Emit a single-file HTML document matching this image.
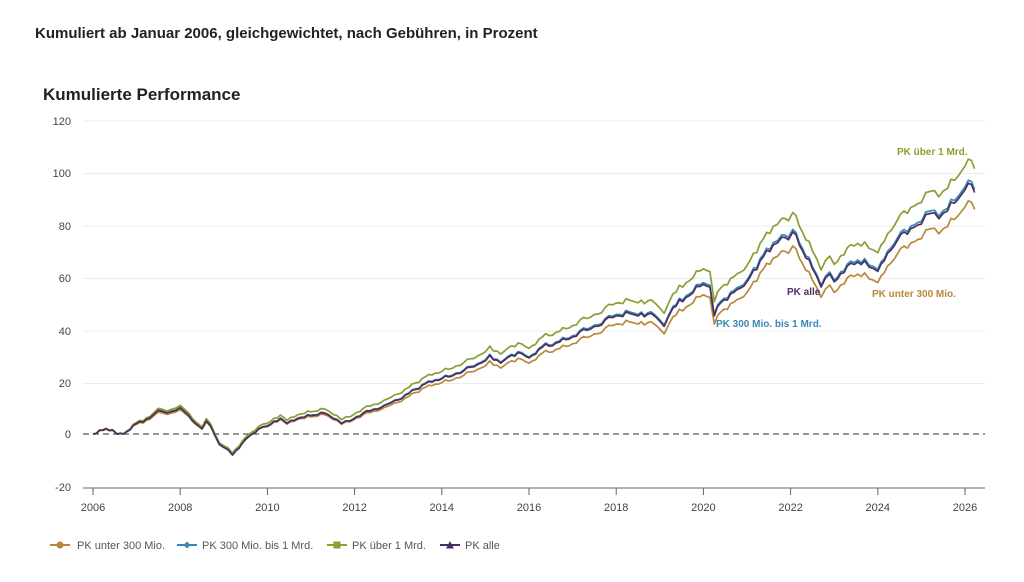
<!DOCTYPE html>
<html><head><meta charset="utf-8"><style>
body{margin:0;background:#fff;width:1024px;height:577px;overflow:hidden;font-family:"Liberation Sans",sans-serif}
</style></head><body>
<svg id="s" width="1024" height="577" xmlns="http://www.w3.org/2000/svg" font-family="Liberation Sans, sans-serif">
<text x="35" y="38" font-size="15" font-weight="bold" fill="#222">Kumuliert ab Januar 2006, gleichgewichtet, nach Gebühren, in Prozent</text>
<text x="43" y="100" font-size="17" font-weight="bold" fill="#222">Kumulierte Performance</text>
<g stroke="#ececec" stroke-width="1">
<line x1="83" x2="985" y1="121" y2="121"/><line x1="83" x2="985" y1="173.5" y2="173.5"/>
<line x1="83" x2="985" y1="226" y2="226"/><line x1="83" x2="985" y1="278.5" y2="278.5"/>
<line x1="83" x2="985" y1="331" y2="331"/><line x1="83" x2="985" y1="383.5" y2="383.5"/>
</g>
<line x1="83" x2="985" y1="434" y2="434" stroke="#555" stroke-width="1.2" stroke-dasharray="6,4"/>
<line x1="83" x2="985" y1="488" y2="488" stroke="#666" stroke-width="1"/>
<g font-size="11" fill="#444" text-anchor="end">
<text x="71" y="125">120</text><text x="71" y="177">100</text><text x="71" y="230">80</text>
<text x="71" y="282">60</text><text x="71" y="335">40</text><text x="71" y="387">20</text>
<text x="71" y="438">0</text><text x="71" y="491">-20</text>
</g>
<g id="xt" font-size="11" fill="#444" text-anchor="middle" stroke="#666"></g>
<g id="lines" fill="none" stroke-width="1.7" stroke-linejoin="round"></g>
<g font-size="10" font-weight="bold">
<text x="897" y="155" fill="#8a9e32">PK über 1 Mrd.</text>
<text x="872" y="297" fill="#b8893a">PK unter 300 Mio.</text>
<text x="787" y="295" fill="#4b2f62">PK alle</text>
<text x="716" y="327" fill="#3a88b0">PK 300 Mio. bis 1 Mrd.</text>
</g>
<g font-size="11" fill="#555">
<line x1="50" x2="70" y1="545" y2="545" stroke="#b8893a" stroke-width="2"/><circle cx="60" cy="545" r="3.5" fill="#b8893a"/>
<text x="77" y="549">PK unter 300 Mio.</text>
<line x1="177" x2="197" y1="545" y2="545" stroke="#3a88b0" stroke-width="2"/><path d="M187 541.5L190.5 545L187 548.5L183.5 545Z" fill="#3a88b0"/>
<text x="202" y="549">PK 300 Mio. bis 1 Mrd.</text>
<line x1="327" x2="347" y1="545" y2="545" stroke="#8a9e32" stroke-width="2"/><rect x="333.5" y="541.5" width="7" height="7" fill="#8a9e32"/>
<text x="352" y="549">PK über 1 Mrd.</text>
<line x1="440" x2="460" y1="545" y2="545" stroke="#4b2f62" stroke-width="2"/><path d="M450 541L454 548.5L446 548.5Z" fill="#4b2f62"/>
<text x="465" y="549">PK alle</text>
</g>
</svg>
<script>
var k=[[2006,0],[2006.3,2],[2006.45,1.5],[2006.55,0],[2006.7,0],[2007,4],[2007.3,6],[2007.5,9],[2007.7,8],[2007.9,9],[2008,10],[2008.2,7],[2008.35,4],[2008.5,2],[2008.6,5],[2008.7,3],[2008.9,-4],[2009.1,-6],[2009.2,-8],[2009.5,-2],[2009.8,2],[2010,3],[2010.3,6],[2010.45,4],[2010.7,6],[2011,7],[2011.3,8],[2011.5,6],[2011.7,4],[2011.9,5],[2012.2,8],[2012.6,10],[2013,13],[2013.4,17],[2013.7,20],[2014,21],[2014.5,24],[2014.9,27],[2015.1,30],[2015.35,27],[2015.6,30],[2015.75,31],[2016,29],[2016.3,33],[2016.7,35],[2017,37],[2017.5,41],[2018,45],[2018.3,46],[2018.5,45],[2018.8,46],[2019,43],[2019.1,41],[2019.3,48],[2019.6,52],[2020,57],[2020.15,56],[2020.25,45],[2020.4,50],[2020.7,54],[2021,58],[2021.3,66],[2021.6,72],[2021.8,75],[2021.95,74],[2022.05,77],[2022.2,72],[2022.5,63],[2022.6,60],[2022.7,56],[2022.9,61],[2023,58],[2023.3,64],[2023.7,66],[2023.9,63],[2024,62],[2024.3,70],[2024.6,77],[2025,80],[2025.2,84],[2025.4,82],[2025.6,85],[2026,93],[2026.15,95],[2026.22,92]];
// monthly interpolation with small deterministic noise
var m=[];for(var i=0;i<k.length-1;i++){var a=k[i],b=k[i+1],n=Math.max(1,Math.round((b[0]-a[0])*12));for(var j=0;j<n;j++){var t=j/n,y=a[0]+(b[0]-a[0])*t,v=a[1]+(b[1]-a[1])*t;if(j>0)v+=0.9*Math.sin(y*97.3)*Math.cos(y*31.7)*(0.5+Math.abs(v)/60);m.push([y,v]);}}m.push(k[k.length-1]);
function X(y){return 93+(y-2006)*43.6}function Y(v){return 434-v*2.625}
var ser=[["#b8893a",function(y,v){return v-0.07*Math.max(v,0)}],["#3a88b0",function(y,v){return v+0.012*Math.max(v,0)}],["#8a9e32",function(y,v){return v+0.05*Math.max(v,0)+0.22*(y-2006)}],["#4b2f62",function(y,v){return v}]];
var h="";ser.forEach(function(s){var d="";m.forEach(function(p,i){d+=(i?"L":"M")+X(p[0]).toFixed(1)+" "+Y(s[1](p[0],p[1])).toFixed(1)});h+='<path d="'+d+'" stroke="'+s[0]+'"/>'});
document.getElementById("lines").innerHTML=h;
var t="";for(var yr=2006;yr<=2026;yr+=2){var x=X(yr);t+='<line x1="'+x+'" x2="'+x+'" y1="488" y2="495"/><text x="'+x+'" y="511" stroke="none">'+yr+'</text>'}
document.getElementById("xt").innerHTML=t;
</script>
</body></html>
